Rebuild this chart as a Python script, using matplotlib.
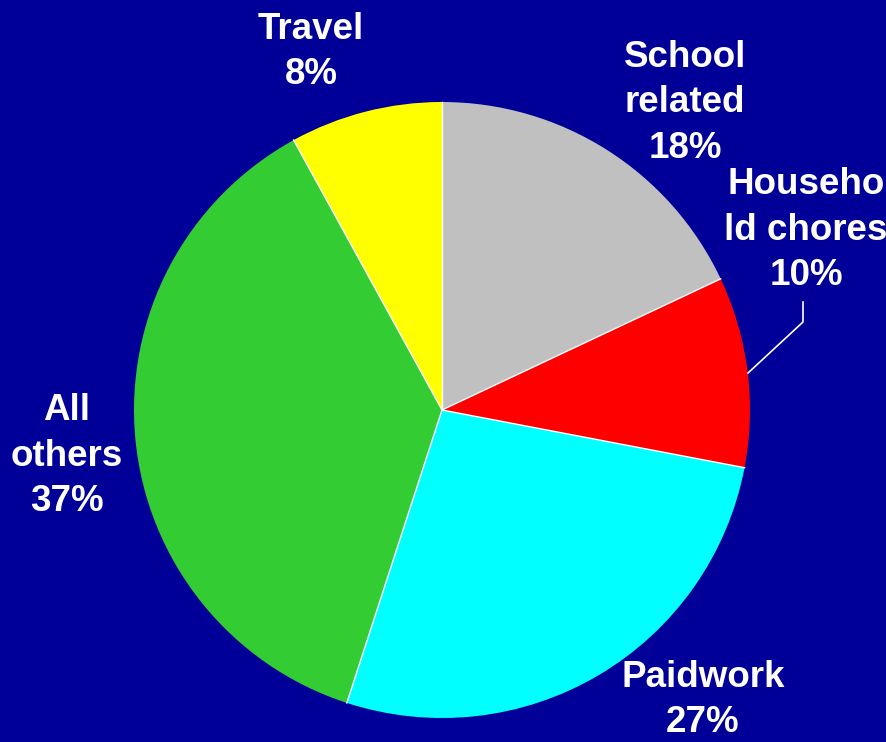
import numpy as np
import matplotlib.pyplot as plt

# === Data ===
categories = ['School\nrelated', 'Househo\nld chores', 'Paidwork', 'All\nothers', 'Travel']
shares = [18, 10, 27, 37, 8]
colors = ['#C0C0C0', '#FF0000', '#00FFFF', '#33CC33', '#FFFF00']

# label centres in pixel coords (y up), picked by hand
label_pos = [(685, 639), (806, 512), (703, 42), (67, 286), (311, 690)]

bg = '#000099'
W, H = 886, 742
cx, cy, r = 442, 332, 308

fig = plt.figure(figsize=(W / 100, H / 100), dpi=100, facecolor=bg)
ax = fig.add_axes([0, 0, 1, 1], facecolor=bg)

wedges, _ = ax.pie(shares, colors=colors, startangle=90, counterclock=False,
                   center=(cx, cy), radius=r, frame=True,
                   wedgeprops=dict(edgecolor='none', linewidth=0))
ax.set_xlim(0, W)
ax.set_ylim(0, H)
ax.set_aspect('equal')
ax.axis('off')

# thin white separators between slices (no outer rim)
for w in wedges:
    t = np.deg2rad(w.theta1)
    ax.plot([cx, cx + r * np.cos(t)], [cy, cy + r * np.sin(t)],
            color='white', linewidth=1)

for name, val, (x, y) in zip(categories, shares, label_pos):
    ax.text(x, y, f'{name}\n{val}%', ha='center', va='center', color='white',
            fontsize=26.5, fontweight='bold', family='Liberation Sans',
            linespacing=1.38)

# leader line for the household slice
ax.plot([748, 803, 803], [369, 420, 440], color='white', linewidth=1.2)

plt.savefig('out.png', dpi=100, facecolor=bg)
